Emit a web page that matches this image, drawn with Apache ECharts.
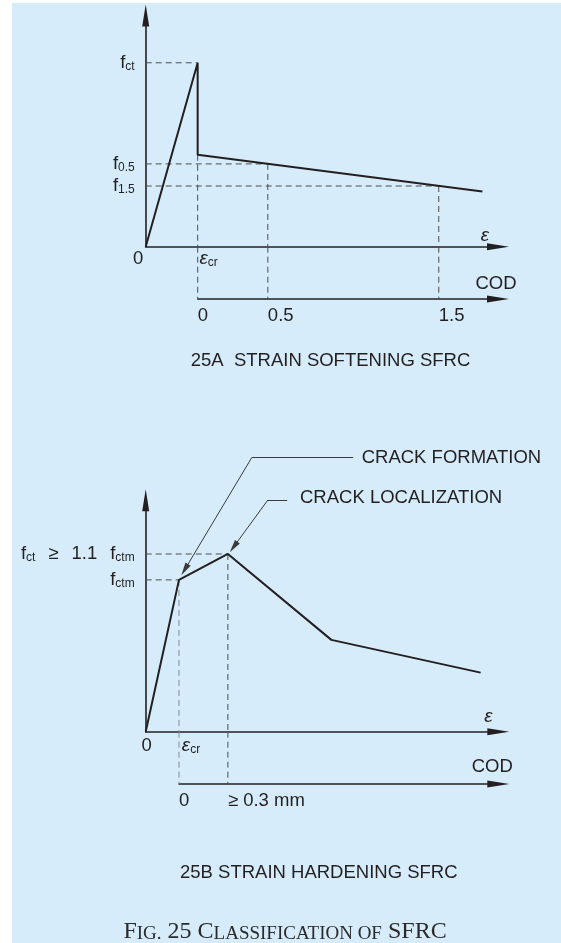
<!DOCTYPE html>
<html>
<head>
<meta charset="utf-8">
<script src="https://cdn.jsdelivr.net/npm/echarts@6/dist/echarts.min.js"></script>
<style>
  html, body { margin: 0; padding: 0; background: #fff; }
  #bg { position: absolute; left: 12px; top: 3px; right: 0; bottom: 0; background: #d6ecfa; }
  #chart { position: absolute; left: 0; top: 0; width: 561px; height: 943px; }
</style>
</head>
<body>
<div id="bg"></div>
<div id="chart"></div>
<script>
// ---- 25A strain softening (x = strain units, y = stress units) ----
const softCurve = [[0, 0], [1, 10], [1, 5], [6.48, 3.0]];
const softPeak = [1, 10];
const softDrop = [1, 5];
const softP05 = [2.35, 4.5];
const softP15 = [5.64, 3.3];
const softYTicks = [10, 4.5, 3.3];
const softYLabels = ['{f|f}{s|ct}', '{f|f}{s|0.5}', '{f|f}{s|1.5}'];
const softXTicks = [0, 1];
const softXLabels = ['{z|0}', '{e|ε}{s|cr}'];
const softCodTicks = [1, 2.35, 5.64];
const softCodLabels = ['0', '0.5', '1.5'];

// ---- 25B strain hardening ----
const hardCurve = [[0, 0], [0.64, 8.2], [1.58, 9.6], [3.57, 4.96], [6.44, 3.19]];
const hardForm = [0.64, 8.2];
const hardLocal = [1.58, 9.6];
const hardYTicks = [9.6, 8.2];
const hardYLabels = ['{f|f}{s|ct}{g|≥}{g|1.1}{g|f}{s|ctm}', '{f|f}{s|ctm}'];
const hardXTicks = [0, 0.64];
const hardXLabels = ['{z|0}', '{e|ε}{s|cr}'];
const hardCodTicks = [0.64, 1.58];
const hardCodLabels = ['0', '≥ 0.3 mm'];

// leader lines for the two callouts: [start, corner, arrow end]
const leaderFormation = [[3.99, 14.81], [2.04, 14.81], [0.75, 8.75]];
const leaderLocal = [[2.72, 12.52], [2.35, 12.52], [1.69, 9.98]];

const INK = '#231f20';
const DASH = '#4d4d4f';
const LIGHT = '#858b91';
const SANS = '"Liberation Sans", Arial, sans-serif';
const FS = 18.5;

const sub = { fontSize: 12, lineHeight: 10, verticalAlign: 'bottom', color: INK, fontFamily: SANS };
const base = { fontSize: FS, lineHeight: 20, color: INK, fontFamily: SANS };
const spaced = Object.assign({}, base, { padding: [0, 0, 0, 13] });

const chart = echarts.init(document.getElementById('chart'), null, { renderer: 'canvas' });

function pick(ticks, labels) {
  return v => {
    const i = ticks.findIndex(t => Math.abs(t - v) < 1e-6);
    return i < 0 ? '' : labels[i];
  };
}

function arrowAxis(extra) {
  return Object.assign({
    type: 'value',
    axisLine: {
      show: true, onZero: false,
      symbol: ['none', 'triangle'], symbolSize: [7, 22],
      lineStyle: { color: INK, width: 1.6 }
    },
    axisTick: { show: false },
    splitLine: { show: false }
  }, extra);
}

function dashed(points, idx, color) {
  return {
    type: 'line', xAxisIndex: idx, yAxisIndex: idx, data: points,
    symbol: 'none', clip: false, silent: true, z: 1,
    lineStyle: { type: [6, 4], width: 1, color: color || DASH }
  };
}
const hLine = (p, idx, c) => dashed([[0, p[1]], p], idx, c);
const vLine = (p, idx, c) => dashed([p, [p[0], 0]], idx, c);
const codDrop = (x, idx, c) => dashed([[x, 1], [x, 0]], idx, c);

const grids = [
  { left: 145.7, top: 15.5, width: 352.3, height: 231.2 },   // A main
  { left: 197.7, top: 246.7, width: 300.3, height: 52.3 },   // A COD
  { left: 145.7, top: 500.3, width: 352.6, height: 231.4 },  // B main
  { left: 179, top: 731.7, width: 319.3, height: 52.3 }      // B COD
].map(g => Object.assign({ containLabel: false, outerBoundsMode: 'none' }, g));

const keepAll = { showMinLabel: true, showMaxLabel: true, hideOverlap: false };

const xAxes = [
  arrowAxis({
    gridIndex: 0, min: 0, max: 6.78,
    name: 'ε', nameLocation: 'end', nameGap: -13,
    nameTextStyle: { fontSize: 19, fontStyle: 'italic', color: INK, fontFamily: SANS, align: 'center', verticalAlign: 'bottom', padding: [0, 0, 1, 0] },
    axisLabel: Object.assign({
      customValues: softXTicks, formatter: pick(softXTicks, softXLabels), margin: 2,
      rich: { z: Object.assign({}, base, { padding: [0, 15, 0, 0] }), e: Object.assign({}, base, { fontSize: 19, fontStyle: 'italic', padding: [0, 0, 0, 22] }), s: sub }
    }, keepAll)
  }),
  arrowAxis({
    gridIndex: 1, min: 1, max: 6.78,
    name: 'COD', nameLocation: 'end', nameGap: -2,
    nameTextStyle: { fontSize: FS, color: INK, fontFamily: SANS, align: 'center', verticalAlign: 'bottom', padding: [0, 0, 6, 0] },
    axisLabel: Object.assign({
      customValues: softCodTicks, formatter: pick(softCodTicks, softCodLabels), margin: 7,
      align: 'left', fontSize: FS, color: INK, fontFamily: SANS
    }, keepAll)
  }),
  arrowAxis({
    gridIndex: 2, min: 0, max: 6.78,
    name: 'ε', nameLocation: 'end', nameGap: -10,
    nameTextStyle: { fontSize: 19, fontStyle: 'italic', color: INK, fontFamily: SANS, align: 'center', verticalAlign: 'bottom', padding: [0, 0, 5, 0] },
    axisLabel: Object.assign({
      customValues: hardXTicks, formatter: pick(hardXTicks, hardXLabels), margin: 4,
      rich: { z: Object.assign({}, base, { padding: [0, 0, 0, 2] }), e: Object.assign({}, base, { fontSize: 19, fontStyle: 'italic', padding: [0, 0, 0, 24] }), s: sub }
    }, keepAll)
  }),
  arrowAxis({
    gridIndex: 3, min: 0.64, max: 6.78,
    name: 'COD', nameLocation: 'end', nameGap: -6,
    nameTextStyle: { fontSize: FS, color: INK, fontFamily: SANS, align: 'center', verticalAlign: 'bottom', padding: [0, 0, 8, 0] },
    axisLabel: Object.assign({
      customValues: hardCodTicks, formatter: pick(hardCodTicks, hardCodLabels), margin: 7,
      align: 'left', fontSize: FS, color: INK, fontFamily: SANS
    }, keepAll)
  })
];

const yAxes = [
  arrowAxis({
    gridIndex: 0, min: 0, max: 12.57,
    axisLabel: Object.assign({ customValues: softYTicks, formatter: pick(softYTicks, softYLabels), margin: 11, rich: { f: base, s: sub } }, keepAll)
  }),
  { type: 'value', gridIndex: 1, min: 0, max: 1, show: false },
  arrowAxis({
    gridIndex: 2, min: 0, max: 12.5,
    axisLabel: Object.assign({ customValues: hardYTicks, formatter: pick(hardYTicks, hardYLabels), margin: 11, rich: { f: base, g: spaced, s: sub } }, keepAll)
  }),
  { type: 'value', gridIndex: 3, min: 0, max: 1, show: false }
];

const curveStyle = { color: INK, width: 2 };

const series = [
  // 25A reference lines
  hLine(softPeak, 0), hLine(softP05, 0), hLine(softP15, 0),
  vLine(softDrop, 0), vLine(softP05, 0), vLine(softP15, 0),
  codDrop(softDrop[0], 1), codDrop(softP05[0], 1), codDrop(softP15[0], 1),
  {
    type: 'line', xAxisIndex: 0, yAxisIndex: 0, data: softCurve,
    symbol: 'none', clip: false, silent: true, z: 3, lineStyle: curveStyle
  },
  // 25B reference lines
  hLine(hardForm, 2), hLine(hardLocal, 2),
  vLine(hardForm, 2, LIGHT), vLine(hardLocal, 2),
  codDrop(hardForm[0], 3, LIGHT), codDrop(hardLocal[0], 3),
  {
    type: 'line', xAxisIndex: 2, yAxisIndex: 2, data: hardCurve,
    symbol: 'none', clip: false, silent: true, z: 3, lineStyle: curveStyle
  },
  // callout leaders
  {
    type: 'lines', coordinateSystem: 'cartesian2d', xAxisIndex: 2, yAxisIndex: 2,
    clip: false, silent: true, z: 4, symbol: 'none',
    lineStyle: { color: '#3a3a3a', width: 1, opacity: 1 },
    data: [
      { coords: [leaderFormation[0], leaderFormation[1]] },
      { coords: [leaderLocal[0], leaderLocal[1]] }
    ]
  },
  {
    type: 'lines', coordinateSystem: 'cartesian2d', xAxisIndex: 2, yAxisIndex: 2,
    clip: false, silent: true, z: 4,
    symbol: ['none', 'triangle'], symbolSize: [[1, 1], [6, 13]],
    lineStyle: { color: '#3a3a3a', width: 1, opacity: 1 },
    data: [
      { coords: [leaderFormation[1], leaderFormation[2]] },
      { coords: [leaderLocal[1], leaderLocal[2]] }
    ]
  }
];

function caption(x, y, text) {
  return {
    type: 'text', x: x, y: y, silent: true,
    style: { text: text, font: FS + 'px ' + SANS, fill: INK, align: 'left', verticalAlign: 'middle' }
  };
}

const big = { fontSize: 24, lineHeight: 24, fontFamily: '"Liberation Serif", "Times New Roman", serif', fill: '#2b2b2b', verticalAlign: 'bottom' };
const small = Object.assign({}, big, { fontSize: 19, lineHeight: 19 });

chart.setOption({
  animation: false,
  backgroundColor: 'transparent',
  textStyle: { fontFamily: SANS, color: INK },
  grid: grids,
  xAxis: xAxes,
  yAxis: yAxes,
  series: series,
  graphic: [
    caption(190.7, 360.5, '25A  STRAIN SOFTENING SFRC'),
    caption(180, 873.3, '25B STRAIN HARDENING SFRC'),
    caption(361.7, 458, 'CRACK FORMATION'),
    caption(300, 497.5, 'CRACK LOCALIZATION'),
    {
      type: 'text', x: 123.4, y: 931.7, silent: true,
      style: {
        text: '{L|F}{S|IG.}{L| 25 C}{S|LASSIFICATION OF}{L| SFRC}',
        align: 'left', verticalAlign: 'middle',
        rich: { L: big, S: small }
      }
    }
  ]
});
</script>
</body>
</html>
